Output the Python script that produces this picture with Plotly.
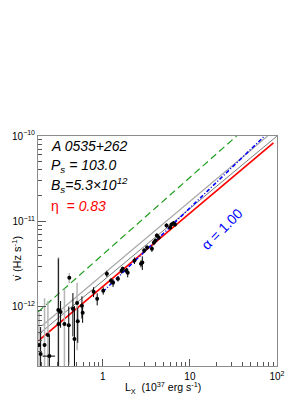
import plotly.graph_objects as go
import math

# ---------------- data ----------------
# points with black error bars
L_black = [0.193, 0.243, 0.308, 0.327, 0.406, 0.453, 0.472, 0.515, 0.575, 0.586,
           0.783, 0.861, 1.01, 1.11, 1.24, 1.31, 1.49, 1.64, 1.69, 1.86,
           1.93, 2.31, 2.74, 2.84, 2.98, 3.22, 3.66, 3.86, 4.03, 4.17,
           4.39, 5.39, 5.93, 6.14, 6.46, 6.75]
nu_black = [2.8e-13, 2.65e-13, 9.2e-13, 8.7e-13, 6.1e-13, 9.5e-13, 4.2e-13, 6.8e-13, 1.03e-12, 8.5e-13,
            1.5e-12, 1.24e-12, 1.54e-12, 2.44e-12, 2.02e-12, 1.91e-12, 2.13e-12, 2.65e-12, 2.8e-12, 2.65e-12,
            2.51e-12, 3.48e-12, 3.2e-12, 3.3e-12, 4.56e-12, 4.94e-12, 4.8e-12, 5.66e-12, 5.97e-12, 6.84e-12,
            6.48e-12, 8.97e-12, 8.5e-12, 9.2e-12, 9.5e-12, 9.2e-12]
nuerr_black = [3e-13, 2e-13, 2.75e-12, 3e-13, 4e-13, 5e-13, 6e-13, 3e-13, 3e-13, 2e-13,
               2e-13, 2e-13, 1.5e-13, 2e-13, 1.5e-13, 2e-13, 1.5e-13, 2e-13, 1.5e-13, 2e-13,
               3e-13, 3e-13, 3e-13, 6e-13, 3e-13, 3e-13, 4e-13, 4e-13, 3e-13, 4e-13,
               4e-13, 5e-13, 5e-13, 5e-13, 5e-13, 5e-13]
Lerr_black = [0, 0.04, 0, 0, 0, 0, 0, 0, 0, 0,
              0, 0, 0, 0.05, 0, 0, 0.06, 0, 0, 0.06,
              0, 0, 0.08, 0, 0, 0.1, 0, 0, 0, 0.1,
              0, 0, 0.15, 0, 0, 0.15]

# points with grey error bars
L_grey = [0.185, 0.214, 0.234, 0.31, 0.362, 0.412, 0.506]
nu_grey = [3.57e-13, 3.57e-13, 4.69e-13, 6.3e-13, 6.3e-13, 2.19e-12, 1.11e-12]
nuerr_grey = [5e-13, 9e-13, 7e-13, 3.2e-12, 1e-12, 3e-13, 8e-13]

# model lines (end points)
green_L, green_nu = [0.18, 34.4], [8.7e-13, 1.0e-10]
red_L, red_nu = [0.18, 91.0], [3.98e-13, 8.3e-11]
blue_L, blue_nu = [1.0, 72.0], [1.5e-12, 1.0e-10]
grey_L, grey_nu = [0.2, 78.0], [6.0e-13, 1.0e-10]
blk_L, blk_nu = [0.18, 100.0], [4.7e-13, 1.0e-10]

x_tickvals = [1, 10, 100]
x_ticktext = ["1", "10", "10<sup>2</sup>"]
y_tickvals = [1e-12, 1e-11, 1e-10]
y_ticktext = ["10<sup>\u221212</sup>", "10<sup>\u221211</sup>", "10<sup>\u221210</sup>"]

x_minor = [m * 10.0 ** e for e in (-1, 0, 1) for m in range(2, 10)]
y_minor = [m * 10.0 ** e for e in (-13, -12, -11) for m in range(2, 10)]

FONT = "Liberation Sans, Arial, sans-serif"

fig = go.Figure()

fig.add_trace(go.Scatter(x=green_L, y=green_nu, mode="lines",
                         line=dict(color="#1f9e1f", width=1.2, dash="7px,4px"), hoverinfo="skip"))
fig.add_trace(go.Scatter(x=grey_L, y=grey_nu, mode="lines",
                         line=dict(color="#a8a8a8", width=1.2), hoverinfo="skip"))
fig.add_trace(go.Scatter(x=blk_L, y=blk_nu, mode="lines",
                         line=dict(color="#222222", width=0.6), hoverinfo="skip"))
fig.add_trace(go.Scatter(x=red_L, y=red_nu, mode="lines",
                         line=dict(color="#ff0000", width=1.6), hoverinfo="skip"))
fig.add_trace(go.Scatter(x=blue_L, y=blue_nu, mode="lines",
                         line=dict(color="#0000ff", width=1.5, dash="4px,2px,1px,2px"), hoverinfo="skip"))

fig.add_trace(go.Scatter(x=L_grey, y=nu_grey, mode="markers",
                         marker=dict(color="black", size=4),
                         error_y=dict(type="data", array=nuerr_grey, color="#b4b4b4",
                                      thickness=1.5, width=0),
                         hoverinfo="skip"))
fig.add_trace(go.Scatter(x=L_black, y=nu_black, mode="markers",
                         marker=dict(color="black", size=4),
                         error_y=dict(type="data", array=nuerr_black, color="black",
                                      thickness=1, width=0),
                         error_x=dict(type="data", array=Lerr_black, color="black",
                                      thickness=1, width=0),
                         hoverinfo="skip"))

axis_common = dict(type="log", showgrid=False, zeroline=False, showline=True, mirror=True,
                   linecolor="#8c8c8c", linewidth=1, ticks="inside", tickcolor="#555555",
                   tickwidth=1, tickfont=dict(family=FONT, size=10, color="black"))

fig.update_xaxes(range=[math.log10(0.18), 2.0], tickmode="array", tickvals=x_tickvals,
                 ticktext=x_ticktext, ticklen=7, ticklabelstandoff=1,
                 minor=dict(tickmode="array", tickvals=x_minor, ticks="inside", ticklen=4,
                            tickcolor="#555555"),
                 **axis_common)
fig.update_yaxes(range=[math.log10(2.03e-13), -10.0], tickmode="array", tickvals=y_tickvals,
                 ticktext=y_ticktext, ticklen=8,
                 minor=dict(tickmode="array", tickvals=y_minor, ticks="inside", ticklen=4,
                            tickcolor="#555555"),
                 **axis_common)

ann_font = dict(family=FONT, size=14, color="black")
annotations = [
    dict(text="<i>A 0535+262</i>", x=0.045, y=0.956, font=ann_font),
    dict(text="<i>P<sub>s</sub> = 103.0</i>", x=0.045, y=0.868, font=ann_font),
    dict(text="<i>B<sub>s</sub>=5.3\u00d710<sup>12</sup></i>", x=0.045, y=0.785, font=ann_font),
    dict(text="\u03b7  <i>= 0.83</i>", x=0.045, y=0.696,
         font=dict(family=FONT, size=14, color="#ff0000")),
]
for a in annotations:
    a.update(xref="paper", yref="paper", xanchor="left", yanchor="middle", showarrow=False)
    fig.add_annotation(**a)

fig.add_annotation(text="\u03b1 = 1.00", x=0.882, y=0.713, xref="paper", yref="paper",
                   textangle=-45, showarrow=False,
                   font=dict(family=FONT, size=14, color="#0000ff"))
fig.add_annotation(text="L<sub>X</sub>  (10<sup>37</sup> erg s<sup>-1</sup>)", x=0.524, y=-0.096,
                   xref="paper", yref="paper", showarrow=False, yanchor="middle",
                   font=dict(family=FONT, size=10.5, color="black"))
fig.add_annotation(text="\u03bd\u0307 (Hz s<sup>-1</sup>)", x=-0.089, y=0.47,
                   xref="paper", yref="paper", showarrow=False, textangle=-90,
                   xanchor="center", yanchor="middle",
                   font=dict(family=FONT, size=11, color="black"))

fig.update_layout(width=305, height=395, margin=dict(l=31, r=28, t=136, b=29, pad=0),
                  paper_bgcolor="white", plot_bgcolor="white", showlegend=False)

fig.write_html("out.html", config={"displayModeBar": False},
               post_script="document.body.style.margin='0';")
